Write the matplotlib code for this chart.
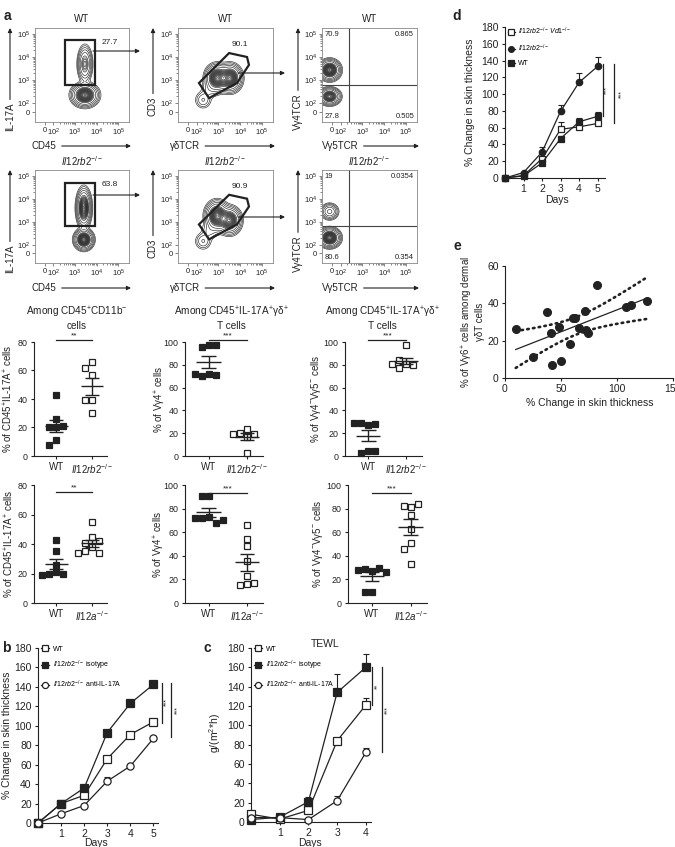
import numpy as np
import matplotlib
matplotlib.use('Agg')
import matplotlib.pyplot as plt
from matplotlib.patches import Rectangle, Polygon, FancyArrowPatch

plt.rcParams['font.family'] = ['Liberation Sans', 'DejaVu Sans']
plt.rcParams['mathtext.fontset'] = 'custom'
plt.rcParams['mathtext.rm'] = 'Liberation Sans'
plt.rcParams['mathtext.it'] = 'Liberation Sans:italic'
plt.rcParams['mathtext.bf'] = 'Liberation Sans:bold'
plt.rcParams['mathtext.default'] = 'rm'

# ======================= DATA =======================
# ---- a: flow cytometry ----
flow_ticks = [1.62, 2, 3, 4, 5]
flow_tick_labels = ['0', '10$^2$', '10$^3$', '10$^4$', '10$^5$']
flow_titles = ['WT', r'$\mathit{Il12rb2}^{-/-}$']
flow_xlabels = ['CD45', 'γδTCR', 'Vγ5TCR']
flow_ylabels = ['IL-17A', 'CD3', 'Vγ4TCR']
il17_gate_pct = ['27.7', '63.8']
gd_gate_pct = ['90.1', '90.9']
quad_pct = [['70.9', '0.865', '27.8', '0.505'],
            ['19', '0.0354', '80.6', '0.354']]
# populations: (x, y, sx, sy, weight) in log-decade units
pop_il17 = [[(3.46, 2.36, 0.25, 0.20, 1.0), (3.46, 3.70, 0.14, 0.32, 0.45)],
            [(3.41, 2.22, 0.18, 0.18, 1.0), (3.41, 3.60, 0.14, 0.34, 0.9)]]
pop_gd = [[(2.94, 3.09, 0.22, 0.24, 1.0), (3.53, 3.09, 0.22, 0.24, 1.0),
           (2.60, 2.60, 0.20, 0.20, 0.05), (2.30, 2.15, 0.18, 0.18, 0.08)],
          [(2.94, 3.25, 0.22, 0.26, 1.0), (3.50, 3.05, 0.22, 0.24, 0.9),
           (2.60, 2.60, 0.20, 0.20, 0.05), (2.30, 2.15, 0.18, 0.18, 0.08)]]
pop_v4 = [[(1.50, 3.44, 0.20, 0.18, 1.0), (1.50, 2.30, 0.20, 0.15, 0.8)],
          [(1.50, 3.44, 0.17, 0.15, 0.3), (1.50, 2.30, 0.20, 0.17, 1.0)]]
il17_gate = [(2.54, 2.79, 3.93, 4.73), (2.54, 2.79, 3.93, 4.69)]
gd_gate = [(2.11, 2.88), (3.49, 4.17), (4.31, 4.0), (4.4, 3.66), (3.85, 2.88), (2.57, 2.23)]
quad_split = (2.39, 2.80)

# ---- a: dot plots ----
dot_col_titles = ['Among CD45$^{+}$CD11b$^{-}$\ncells',
                  'Among CD45$^{+}$IL-17A$^{+}$γδ$^{+}$\nT cells',
                  'Among CD45$^{+}$IL-17A$^{+}$γδ$^{+}$\nT cells']
dot_ylabels = ['% of CD45$^{+}$IL-17A$^{+}$ cells', '% of Vγ4$^{+}$ cells',
               '% of Vγ4$^{-}$Vγ5$^{-}$ cells']
groups_rb2 = ['WT', r'$\mathit{Il12rb2}^{-/-}$']
groups_12a = ['WT', r'$\mathit{Il12a}^{-/-}$']
il17_wt_rb2 = [43, 26, 20, 20, 21, 11, 8]
il17_ko_rb2 = [66, 62, 57, 39, 39, 30]
vg4_wt_rb2 = [97, 96, 97, 72, 70, 71, 72]
vg4_ko_rb2 = [24, 20, 17, 19, 19, 3]
dn_wt_rb2 = [27, 29, 28, 29, 4, 3, 4]
dn_ko_rb2 = [97, 81, 84, 80, 77, 81]
il17_wt_12a = [43, 35, 26, 21, 20, 20, 19]
il17_ko_12a = [55, 45, 41, 42, 38, 35, 34, 34]
vg4_wt_12a = [91, 91, 73, 72, 68, 72, 70]
vg4_ko_12a = [66, 54, 48, 36, 23, 16, 15, 17]
dn_wt_12a = [27, 29, 30, 28, 26, 9, 9]
dn_ko_12a = [81, 82, 84, 75, 63, 51, 46, 33]
dot_stars = ['**', '***', '***', '**', '***', '***']
dot_sig_y = [81.5, 101.5, 101.5, 75, 93.5, 93.5]

# ---- b ----
days_b = [0, 1, 2, 3, 4, 5]
b_wt = [0, 20, 28.5, 66, 91, 104]
b_wt_sem = [0, 1.5, 2, 3, 2, 2]
b_iso = [0, 20, 36, 93, 123, 142.5]
b_iso_sem = [0, 1.5, 2, 3, 2, 1]
b_anti = [0, 9.5, 18, 43, 58.5, 87]
b_anti_sem = [0, 1, 1, 4, 2, 2]
bc_labels = ['WT', r'$\mathit{Il12rb2}^{-/-}$ isotype', r'$\mathit{Il12rb2}^{-/-}$ anti-IL-17A']

# ---- c ----
days_c = [0, 1, 2, 3, 4]
c_wt = [8, 3, 12, 84, 121]
c_wt_sem = [1, 1, 3, 3, 7]
c_iso = [2.5, 5, 21, 134, 160]
c_iso_sem = [1, 1, 5, 19, 14]
c_anti = [4.5, 4.5, 2.5, 22, 72]
c_anti_sem = [1, 1, 1, 5, 5]

# ---- d ----
days_d = [0, 1, 2, 3, 4, 5]
d_vd1 = [0, 3, 23, 58, 61, 65]
d_vd1_sem = [0, 1, 2, 9, 3, 3]
d_ko = [0, 6.5, 31, 79.5, 114, 133]
d_ko_sem = [0, 1, 6, 7, 11, 11]
d_wt = [0, 2.5, 18, 47, 67, 73.5]
d_wt_sem = [0, 1, 2, 3, 4, 5]
d_labels = [r'$\mathit{Il12rb2}^{-/-}\,\mathit{Vd1}^{-/-}$', r'$\mathit{Il12rb2}^{-/-}$', 'WT']

# ---- e ----
e_x = [9.6, 25.4, 37.9, 40.9, 41.8, 48.4, 50.1, 57.6, 60.3, 62.1, 66.3, 71, 72.2, 74, 82.1, 108, 112.8, 126.9]
e_y = [26.3, 11.5, 35.5, 24, 6.7, 27.5, 8.9, 18.1, 32, 32, 27, 36, 25.7, 24, 50, 38.2, 39, 41.4]

# ======================= FIGURE =======================
W, H = 675, 847
fig = plt.figure(figsize=(W / 100, H / 100), dpi=100)
INK = '#222222'
renderer = fig.canvas.get_renderer()


def axpx(l, t, r, b):
    return fig.add_axes([l / W, 1 - b / H, (r - l) / W, (b - t) / H])


def F(x, y):
    return (x / W, 1 - y / H)


def ftext(x, y, s, **kw):
    kw.setdefault('color', INK)
    return fig.text(x / W, 1 - y / H, s, **kw)


def farrow(x0, y0, x1, y1):
    fig.add_artist(FancyArrowPatch(F(x0, y0), F(x1, y1), transform=fig.transFigure,
                                   arrowstyle='-|>', mutation_scale=6, lw=0.8,
                                   color=INK, shrinkA=0, shrinkB=0))


def label_arrow_y(x, ybot, ytop, s):
    t = ftext(x, ybot, s, rotation=90, ha='center', va='bottom', fontsize=7)
    bb = t.get_window_extent(renderer)
    farrow(x, H - bb.y1 - 3, x, ytop)


def label_arrow_x(xl, y, xr, s):
    t = ftext(xl, y, s, ha='left', va='center', fontsize=7)
    bb = t.get_window_extent(renderer)
    farrow(bb.x1 + 5, y, xr, y)


XL = (1.15, 5.5)
YL = (1.2, 5.25)
minor_flow = [np.log10(k * 10 ** d) for d in (2, 3, 4) for k in range(2, 10)]


def flow_axes(l, t, r, b):
    ax = axpx(l, t, r, b)
    ax.set_xlim(*XL)
    ax.set_ylim(*YL)
    for s in ax.spines.values():
        s.set_color('#888888')
        s.set_linewidth(0.6)
    ax.set_xticks(flow_ticks)
    ax.set_xticklabels(flow_tick_labels)
    ax.set_yticks(flow_ticks)
    ax.set_yticklabels(flow_tick_labels)
    ax.set_xticks(minor_flow, minor=True)
    ax.set_yticks(minor_flow, minor=True)
    ax.tick_params(which='both', direction='out', labelsize=5.5, color='#555555',
                   labelcolor=INK, length=2, width=0.5, pad=1.5)
    ax.tick_params(which='minor', length=1.2)
    return ax


def density(ax, pops):
    xs = np.linspace(XL[0], XL[1], 260)
    ys = np.linspace(YL[0], YL[1], 260)
    X, Y = np.meshgrid(xs, ys)
    Z = np.zeros_like(X)
    for (x0, y0, sx, sy, w) in pops:
        Z += w * np.exp(-0.5 * (((X - x0) / sx) ** 2 + ((Y - y0) / sy) ** 2))
    levels = Z.max() * np.r_[np.geomspace(0.012, 0.25, 6), np.linspace(0.32, 0.985, 14)]
    ax.contour(X, Y, Z, levels=levels, colors='#2a2a2a', linewidths=0.45)


flow_cols = [(35, 129), (178, 273), (322, 417)]
flow_rows = [(28, 122), (170, 263)]

for r, (t, b) in enumerate(flow_rows):
    dy = t - 28
    axes = [flow_axes(c[0], t, c[1], b) for c in flow_cols]
    # panel 1
    ax = axes[0]
    density(ax, pop_il17[r])
    g = il17_gate[r]
    ax.add_patch(Rectangle((g[0], g[1]), g[2] - g[0], g[3] - g[1], fill=False, lw=1.6, ec=INK, zorder=5))
    ax.text(4.62, 4.62, il17_gate_pct[r], fontsize=6, ha='center', va='center', color=INK)
    # panel 2
    ax = axes[1]
    density(ax, pop_gd[r])
    ax.add_patch(Polygon(gd_gate, closed=True, fill=False, lw=1.6, ec=INK, zorder=5))
    ax.text(3.99, 4.55, gd_gate_pct[r], fontsize=6, ha='center', va='center', color=INK)
    # panel 3
    ax = axes[2]
    density(ax, pop_v4[r])
    ax.axvline(quad_split[0], color='#444444', lw=0.8)
    ax.axhline(quad_split[1], color='#444444', lw=0.8)
    q = quad_pct[r]
    ax.text(0.03, 0.97, q[0], transform=ax.transAxes, fontsize=5.5, ha='left', va='top', color=INK)
    ax.text(0.97, 0.97, q[1], transform=ax.transAxes, fontsize=5.5, ha='right', va='top', color=INK)
    ax.text(0.03, 0.02, q[2], transform=ax.transAxes, fontsize=5.5, ha='left', va='bottom', color=INK)
    ax.text(0.97, 0.02, q[3], transform=ax.transAxes, fontsize=5.5, ha='right', va='bottom', color=INK)
    # titles
    for c in flow_cols:
        ftext((c[0] + c[1]) / 2, 19 + dy, flow_titles[r], ha='center', va='center', fontsize=7)
    # axis labels with arrows
    label_arrow_y(10, 131 + dy, 28 + dy, flow_ylabels[0])
    label_arrow_y(153, 116 + dy, 28 + dy, flow_ylabels[1])
    label_arrow_y(298, 130 + dy, 28 + dy, flow_ylabels[2])
    label_arrow_x(32, 146 + dy, 131, flow_xlabels[0])
    label_arrow_x(170, 146 + dy, 275, flow_xlabels[1])
    label_arrow_x(322, 146 + dy, 419, flow_xlabels[2])
    # gate arrows
    arrow_y1 = [51, 195][r]
    arrow_y2 = [73, 217][r]
    farrow(93, arrow_y1, 140, arrow_y1)
    farrow(238, arrow_y2, 285, arrow_y2)


def style_axes(ax, fs=7, yfs=None):
    for s in ['top', 'right']:
        ax.spines[s].set_visible(False)
    for s in ['left', 'bottom']:
        ax.spines[s].set_color(INK)
        ax.spines[s].set_linewidth(0.8)
    ax.tick_params(direction='out', length=2.5, width=0.8, labelsize=fs, colors=INK, pad=2)
    if yfs is not None:
        ax.tick_params(axis='y', labelsize=yfs)


def swarm(vals, ppy, size):
    placed = []
    offs = []
    cands = [0.0]
    for i in range(1, 20):
        cands += [-0.5 * i, 0.5 * i]
    for v in vals:
        for c in cands:
            dx = c * size
            if all(abs(dx - px) >= size or abs(v - pv) * ppy >= size for px, pv in placed):
                break
        placed.append((dx, v))
        offs.append(dx)
    return np.array(offs)


XD = (-0.62, 1.42)


def dot_panel(ax, wt, ko, ymax, xlabels, sig_y, stars):
    ax.set_xlim(*XD)
    ax.set_ylim(0, ymax)
    ax.set_yticks(np.arange(0, ymax + 1, 20))
    ax.set_xticks([0, 1])
    ax.set_xticklabels(xlabels)
    style_axes(ax, 7, 6.4)
    bb = ax.get_position()
    ppx = bb.width * W / (XD[1] - XD[0])
    ppy = bb.height * H / ymax
    size = 7.0
    for i, (vals, filled) in enumerate([(wt, True), (ko, False)]):
        offs = swarm(vals, ppy, size)
        xs = i + offs / ppx
        ax.plot(xs, vals, ls='none', marker='s', ms=4.6, mfc=INK if filled else 'white',
                mec=INK, mew=0.9, clip_on=False, zorder=3)
        m = np.mean(vals)
        se = np.std(vals, ddof=1) / np.sqrt(len(vals))
        kw = dict(color=INK, lw=1.0, zorder=4, solid_capstyle='butt')
        ax.plot([i - 0.32, i + 0.32], [m, m], **kw)
        ax.plot([i - 0.19, i + 0.19], [m + se, m + se], **kw)
        ax.plot([i - 0.19, i + 0.19], [m - se, m - se], **kw)
        ax.plot([i, i], [m - se, m + se], **kw)
    ax.plot([0, 1], [sig_y, sig_y], color=INK, lw=0.9, clip_on=False)
    ax.text(0.5, sig_y + ymax * 0.005, stars, ha='center', va='bottom', fontsize=6, color=INK)


dot_axes_px = [(34, 342, 107, 456), (185, 342, 263, 456), (345, 342, 422, 456),
               (34, 485, 107, 603), (185, 485, 263, 603), (348, 485, 427, 603)]
dot_data = [(il17_wt_rb2, il17_ko_rb2, 80, groups_rb2), (vg4_wt_rb2, vg4_ko_rb2, 100, groups_rb2),
            (dn_wt_rb2, dn_ko_rb2, 100, groups_rb2), (il17_wt_12a, il17_ko_12a, 80, groups_12a),
            (vg4_wt_12a, vg4_ko_12a, 100, groups_12a), (dn_wt_12a, dn_ko_12a, 100, groups_12a)]
dot_ylabel_x = [8, 160, 316, 9, 159, 318]
for k in range(6):
    l, t, r_, b = dot_axes_px[k]
    ax = axpx(l, t, r_, b)
    wt, ko, ymax, xl = dot_data[k]
    dot_panel(ax, wt, ko, ymax, xl, dot_sig_y[k], dot_stars[k])
    ftext(dot_ylabel_x[k], (t + b) / 2, dot_ylabels[k % 3], rotation=90, ha='center', va='center', fontsize=7)

for x, s in zip([77, 231, 382], dot_col_titles):
    ftext(x, 318, s, ha='center', va='center', fontsize=7.2, linespacing=1.1)


def line_panel(ax, days, series, xmax, ymax):
    handles = []
    for vals, sem, marker, filled in series:
        ax.errorbar(days, vals, yerr=[np.zeros(len(sem)), sem], fmt='none', ecolor=INK,
                    elinewidth=0.8, capsize=2.2, capthick=0.8, clip_on=False, zorder=2)
        h, = ax.plot(days, vals, color=INK, lw=0.9, marker=marker, ms=5.2,
                     mfc=INK if filled else 'white', mec=INK, mew=0.9, clip_on=False, zorder=3)
        handles.append(h)
    ax.set_xlim(0, xmax)
    ax.set_ylim(0, ymax)
    ax.set_yticks(np.arange(0, ymax + 1, 20))
    ax.set_xticks(days[1:])
    style_axes(ax, 7.5)
    return handles


# ---- b ----
ax = axpx(38, 648, 158, 823)
hs = line_panel(ax, days_b, [(b_wt, b_wt_sem, 's', False), (b_iso, b_iso_sem, 's', True),
                             (b_anti, b_anti_sem, 'o', False)], 5.2, 180)
ax.legend(hs, bc_labels, loc='upper left', bbox_to_anchor=(0.0, 1.03), fontsize=5,
          frameon=False, handlelength=1.2, handletextpad=0.5, labelspacing=0.9,
          markerscale=0.85, borderaxespad=0)
ax.plot([5.39, 5.39], [144, 103], color=INK, lw=0.9, clip_on=False)
ax.plot([5.78, 5.78], [144, 88], color=INK, lw=0.9, clip_on=False)
ax.text(5.6, 124, '***', rotation=90, ha='center', va='center', fontsize=5, color=INK)
ax.text(6.05, 116, '***', rotation=90, ha='center', va='center', fontsize=5, color=INK)
ftext(7, 735, '% Change in skin thickness', rotation=90, ha='center', va='center', fontsize=7.5)
ftext(96, 843, 'Days', ha='center', va='center', fontsize=7.5)

# ---- c ----
ax = axpx(251, 648, 371, 822)
hs = line_panel(ax, days_c, [(c_wt, c_wt_sem, 's', False), (c_iso, c_iso_sem, 's', True),
                             (c_anti, c_anti_sem, 'o', False)], 4.18, 180)
ax.legend(hs, bc_labels, loc='upper left', bbox_to_anchor=(0.0, 1.03), fontsize=5,
          frameon=False, handlelength=1.2, handletextpad=0.5, labelspacing=0.9,
          markerscale=0.85, borderaxespad=0)
ax.plot([4.22, 4.22], [160, 121], color=INK, lw=0.9, clip_on=False)
ax.plot([4.56, 4.56], [160, 72], color=INK, lw=0.9, clip_on=False)
ax.text(4.4, 140, '**', rotation=90, ha='center', va='center', fontsize=5, color=INK)
ax.text(4.75, 116, '***', rotation=90, ha='center', va='center', fontsize=5, color=INK)
ftext(215, 733, 'g/(m$^2$*h)', rotation=90, ha='center', va='center', fontsize=7.5)
ftext(310, 843, 'Days', ha='center', va='center', fontsize=7.5)
ftext(325, 644, 'TEWL', ha='center', va='center', fontsize=7.5)

# ---- d ----
ax = axpx(505, 27, 605, 178)
hs = line_panel(ax, days_d, [(d_vd1, d_vd1_sem, 's', False), (d_ko, d_ko_sem, 'o', True),
                             (d_wt, d_wt_sem, 's', True)], 5.4, 180)
for h in hs:
    h.set_markersize(4.6)
ax.legend(hs, d_labels, loc='upper left', bbox_to_anchor=(0.0, 1.03), fontsize=5,
          frameon=False, handlelength=1.0, handletextpad=0.4, labelspacing=0.9,
          markerscale=0.9, borderaxespad=0)
ax.plot([5.3, 5.3], [136, 73.5], color=INK, lw=0.9, clip_on=False)
ax.plot([5.89, 5.89], [136, 65.6], color=INK, lw=0.9, clip_on=False)
ax.text(5.52, 105, '***', rotation=90, ha='center', va='center', fontsize=5, color=INK)
ax.text(6.3, 100, '***', rotation=90, ha='center', va='center', fontsize=5, color=INK)
ftext(470, 102, '% Change in skin thickness', rotation=90, ha='center', va='center', fontsize=7.5)
ftext(557, 200, 'Days', ha='center', va='center', fontsize=7.5)

# ---- e ----
ax = axpx(505, 266, 673, 378)
ex = np.array(e_x)
ey = np.array(e_y)
slope, icpt = np.polyfit(ex, ey, 1)
xx = np.linspace(ex.min(), ex.max(), 60)
n = len(ex)
resid = ey - (slope * ex + icpt)
s_err = np.sqrt(np.sum(resid ** 2) / (n - 2))
sxx = np.sum((ex - ex.mean()) ** 2)
band = 2.12 * s_err * np.sqrt(1 / n + (xx - ex.mean()) ** 2 / sxx)
fit = slope * xx + icpt
ax.plot(xx, fit, color=INK, lw=0.9)
ax.plot(xx, fit + band, color=INK, lw=1.9, ls=(0, (0.6, 1.6)), dash_capstyle='round')
ax.plot(xx, fit - band, color=INK, lw=1.9, ls=(0, (0.6, 1.6)), dash_capstyle='round')
ax.plot(ex, ey, ls='none', marker='o', ms=5.5, mfc=INK, mec=INK, clip_on=False, zorder=3)
ax.set_xlim(0, 150)
ax.set_ylim(0, 60)
ax.set_xticks([0, 50, 100, 150])
ax.set_yticks([0, 20, 40, 60])
style_axes(ax, 7.5)
ftext(472, 322, '% of Vγ6$^{+}$ cells among dermal\nγδT cells', rotation=90, ha='center',
      va='center', fontsize=7, linespacing=1.0)
ftext(590, 403, '% Change in skin thickness', ha='center', va='center', fontsize=7.5)

# panel letters
for s, x, y in [('a', 7, 16), ('b', 6, 648), ('c', 207, 648), ('d', 457, 16), ('e', 457, 246)]:
    ftext(x, y, s, ha='center', va='center', fontsize=10, fontweight='bold')

fig.savefig('out.png', dpi=100)
